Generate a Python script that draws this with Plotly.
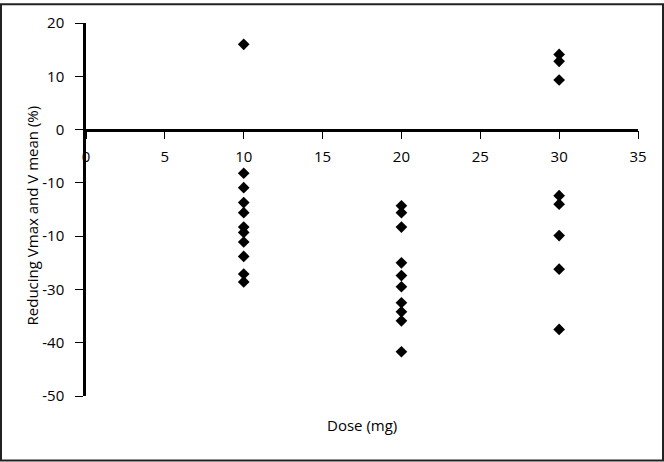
import plotly.graph_objects as go

# Data
dose_10 = [16.0, -8.2, -10.9, -13.7, -15.6, -18.3, -19.3, -21.1, -23.8, -27.1, -28.6]
dose_20 = [-14.3, -15.6, -18.3, -25.0, -27.4, -29.5, -32.5, -34.2, -35.9, -41.7]
dose_30 = [14.1, 12.8, 9.3, -12.4, -14.0, -19.9, -26.2, -37.5]

x_ticks = [0, 5, 10, 15, 20, 25, 30, 35]
y_tickvals = [20, 10, 0, -10, -20, -30, -40, -50]
y_ticktext = ["20", "10", "0", "-10", "-10", "-30", "-40", "-50"]

xs = [10] * len(dose_10) + [20] * len(dose_20) + [30] * len(dose_30)
ys = dose_10 + dose_20 + dose_30

W, H = 664, 462
ml, mr, mt, mb = 86, 26, 20, 66
pw, ph = W - ml - mr, H - mt - mb

FONT = "Open Sans, DejaVu Sans, sans-serif"

fig = go.Figure(go.Scatter(
    x=xs, y=ys, mode="markers",
    marker=dict(symbol="diamond", size=9, color="black", line=dict(width=0)),
    showlegend=False, hoverinfo="x+y",
))

fig.update_layout(
    width=W, height=H,
    margin=dict(l=ml, r=mr, t=mt, b=mb),
    paper_bgcolor="white", plot_bgcolor="white",
    font=dict(family=FONT, size=15, color="black"),
    xaxis=dict(
        range=[0, 35], tickvals=x_ticks, ticktext=[str(v) for v in x_ticks],
        showgrid=False, zeroline=False, showline=True, linecolor="black", linewidth=2.5,
        ticks="outside", ticklen=8, tickwidth=1.3, tickcolor="black",
        anchor="free", position=50 / 70, side="bottom",
        ticklabelstandoff=5, tickfont=dict(size=15, family=FONT),
    ),
    yaxis=dict(
        range=[-50, 20], tickvals=y_tickvals, ticktext=y_ticktext,
        showgrid=False, zeroline=False, showline=True, linecolor="black", linewidth=2.5,
        ticks="outside", ticklen=8, tickwidth=1.3, tickcolor="black",
        ticklabelstandoff=8, tickfont=dict(size=15, family=FONT),
    ),
    annotations=[
        dict(text="Dose (mg)", xref="paper", yref="paper",
             x=(362 - ml) / pw, y=(H - mb - 425) / ph,
             xanchor="center", yanchor="middle", showarrow=False,
             font=dict(size=15, family=FONT)),
        dict(text="Reducing Vmax and V mean (%)", xref="paper", yref="paper",
             x=(32 - ml) / pw, y=(H - mb - 214) / ph, textangle=-90,
             xanchor="center", yanchor="middle", showarrow=False,
             font=dict(size=15, family=FONT)),
    ],
    shapes=[
        dict(type="rect", xref="paper", yref="paper",
             x0=(1 - ml) / pw, x1=(W - 1 - ml) / pw,
             y0=(H - mb - (H - 1)) / ph, y1=(H - mb - 1) / ph,
             line=dict(color="#222222", width=2), fillcolor="rgba(0,0,0,0)", layer="below"),
    ],
)

fig.write_html(
    "out.html",
    config={"displayModeBar": False},
    post_script="document.body.style.margin='0';document.body.style.padding='0';",
)
